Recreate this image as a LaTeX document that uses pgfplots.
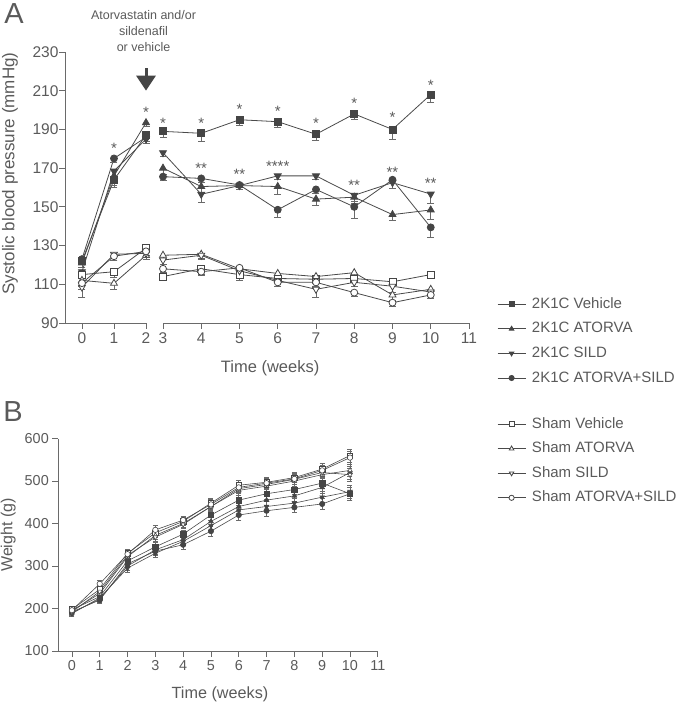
\documentclass[border=0pt]{standalone}
\usepackage{fontspec}
\setmainfont{Liberation Sans}
\usepackage{pgfplots}
\pgfplotsset{compat=1.18}
\usetikzlibrary{arrows.meta}

\definecolor{lc}{HTML}{4A4A4A}
\definecolor{mc}{HTML}{454545}
\definecolor{ac}{HTML}{6A6A6A}
\definecolor{tc}{HTML}{5A5A5A}

\tikzset{astx/.style={font=\fontsize{15}{15}\selectfont, text=tc, yshift=-3.2pt, inner sep=0pt}}

\pgfplotsset{
  common/.style={
    scale only axis, clip=false,
    axis line style={ac, line width=0.8pt},
    tick style={ac, line width=0.8pt},
    major tick length=6pt, tick align=outside,
    /pgf/number format/assume math mode=true,
    ticklabel style={text=tc},
    label style={text=tc},
  },
  ser/.style={color=lc, line width=0.8pt, mark size=3.5pt,
    error bars/y dir=minus, error bars/y explicit,
    error bars/error bar style={color=ac, line width=0.7pt, solid},
    error bars/error mark options={rotate=90, mark size=3.5pt, color=ac, line width=0.7pt}},
  kV/.style={ser, mark=square*, mark options={fill=mc, draw=mc, solid}},
  kA/.style={ser, mark=triangle*, mark options={fill=mc, draw=mc, solid}, mark size=4pt},
  kS/.style={ser, mark=triangle*, mark options={fill=mc, draw=mc, solid, rotate=180}, mark size=4pt},
  kAS/.style={ser, mark=*, mark options={fill=mc, draw=mc, solid}},
  sV/.style={ser, mark=square*, mark options={fill=white, draw=mc, solid}},
  sA/.style={ser, mark=triangle*, mark options={fill=white, draw=mc, solid}, mark size=4pt},
  sS/.style={ser, mark=triangle*, mark options={fill=white, draw=mc, solid, rotate=180}, mark size=4pt},
  sAS/.style={ser, mark=*, mark options={fill=white, draw=mc, solid}},
  small/.style={line width=0.6pt, mark size=2.7pt, error bars/y dir=both,
    error bars/error mark options={rotate=90, mark size=2.5pt, color=ac, line width=0.6pt}},
}

% Panel A, weeks 0-2
\pgfplotstableread{
x y e
0 122 3
1 164 4
2 187 3
}\AkVa
\pgfplotstableread{
x y e
0 121 2
1 166 5
2 193.5 2
}\AkAa
\pgfplotstableread{
x y e
0 116.5 2
1 168.5 5
2 185 2
}\AkSa
\pgfplotstableread{
x y e
0 123 2
1 175 2
2 186 2
}\AkASa
\pgfplotstableread{
x y e
0 115 4
1 116.5 3
2 128.6 2
}\AsVa
\pgfplotstableread{
x y e
0 112 3
1 110.5 3
2 125 2
}\AsAa
\pgfplotstableread{
x y e
0 108.5 5
1 125.5 3
2 126 2
}\AsSa
\pgfplotstableread{
x y e
0 110.6 3
1 124.5 2
2 127 2
}\AsASa

% Panel A, weeks 3-10
\pgfplotstableread{
x y e
3 189 3
4 188 4
5 195 3
6 194 3
7 187.5 3
8 198 3
9 190 5
10 208 4
}\AkVb
\pgfplotstableread{
x y e
3 170 3
4 160.5 3
5 161 2
6 160.5 4
7 154 3
8 155 3
9 146 3
10 148.4 5
}\AkAb
\pgfplotstableread{
x y e
3 178 2
4 156.5 4
5 161 2
6 166 2
7 166 2
8 156 3
9 162.5 3
10 156.6 5
}\AkSb
\pgfplotstableread{
x y e
3 165.6 2
4 164.7 2
5 161.3 2
6 148.5 4
7 159 2
8 150 6
9 164 2
10 139.4 5
}\AkASb
\pgfplotstableread{
x y e
3 114 2
4 118 3
5 115 3
6 113 2
7 112.6 2
8 113 2
9 111.3 2
10 115 2
}\AsVb
\pgfplotstableread{
x y e
3 125 2
4 125.5 2
5 118 2
6 115.6 2
7 114 2
8 116 2
9 104.5 3
10 107.4 3
}\AsAb
\pgfplotstableread{
x y e
3 122.5 2
4 125 2
5 117 2
6 112 3
7 107.4 4
8 111 2
9 109 3
10 106 2
}\AsSb
\pgfplotstableread{
x y e
3 118 2
4 116.5 2
5 118.5 2
6 111 2
7 111 2
8 105.7 2
9 100.5 2
10 104.5 2
}\AsASb

% Panel B
\pgfplotstableread{
x sV sA sS sAS kV kA kS kAS e
0 198 195 192 196 197 190 188 192 6
1 245 235 240 258 228 222 225 220 8
2 330 322 325 328 312 300 295 305 9
3 378 372 368 385 345 338 330 335 10
4 405 400 398 408 375 362 358 350 10
5 448 440 440 445 420 405 395 382 12
6 490 478 482 485 455 440 432 420 12
7 497 488 492 495 470 455 440 430 12
8 508 500 504 505 480 465 448 438 12
9 528 515 520 525 495 485 462 446 13
10 560 525 515 555 470 520 475 470 15
}\Bdata

\begin{document}
\begin{tikzpicture}
\useasboundingbox (0pt,0pt) rectangle (681pt,702pt);

\node[font=\fontsize{29}{29}\selectfont, text=tc] at (14pt,688.5pt) {A};
\node[font=\fontsize{29}{29}\selectfont, text=tc] at (13pt,290pt) {B};

% ---------- Panel A left segment ----------
\begin{axis}[common,
  at={(65pt,379pt)}, anchor=south west, width=81pt, height=271pt,
  xmin=-0.53, xmax=2, ymin=90, ymax=230,
  xtick={0,1,2}, ytick={90,110,...,230},
  axis x line*=bottom, axis y line*=left,
  ticklabel style={font=\fontsize{15.5}{15.5}\selectfont},
  yticklabel style={xshift=3pt},
  ylabel={Systolic blood pressure (mmHg)},
  ylabel style={font=\fontsize{17}{17}\selectfont, at={(axis description cs:-0.679,0.5517)}, anchor=center},
]
\addplot[kV] table[x=x,y=y,y error=e] {\AkVa};
\addplot[kA] table[x=x,y=y,y error=e] {\AkAa};
\addplot[kS] table[x=x,y=y,y error=e] {\AkSa};
\addplot[kAS] table[x=x,y=y,y error=e] {\AkASa};
\addplot[sV] table[x=x,y=y,y error=e] {\AsVa};
\addplot[sA] table[x=x,y=y,y error=e] {\AsAa};
\addplot[sS] table[x=x,y=y,y error=e] {\AsSa};
\addplot[sAS] table[x=x,y=y,y error=e] {\AsASa};
\node[astx] at (axis cs:1,182) {*};
\node[astx] at (axis cs:2,200.5) {*};
\node[align=center, font=\fontsize{12.5}{15.7}\selectfont, text=tc, xshift=-2.5pt] at (axis cs:2,240.8) {Atorvastatin and/or\\sildenafil\\or vehicle};
\draw[mc, line width=3pt, -{Triangle[width=19pt,length=15pt]}] (axis cs:2,221.7) -- (axis cs:2,210);
\end{axis}

% ---------- Panel A right segment ----------
\begin{axis}[common,
  at={(163pt,379pt)}, anchor=south west, width=306pt, height=271pt,
  xmin=3, xmax=11, ymin=90, ymax=230,
  xtick={3,...,11},
  axis x line*=bottom, axis y line=none,
  ticklabel style={font=\fontsize{15.5}{15.5}\selectfont},
  xlabel={Time (weeks)},
  xlabel style={font=\fontsize{16.5}{16.5}\selectfont, at={(axis description cs:0.35,-0.166)}, anchor=center},
  legend style={at={(axis description cs:1.0915,0.0996)}, anchor=north west,
    draw=none, fill=none, inner sep=0pt, row sep=8.6pt, column sep=5pt,
    font=\fontsize{15}{15}\selectfont, text=tc,
    nodes={inner sep=1pt, text height=11pt, text depth=3pt}},
  legend cell align=left,
  legend image code/.code={\draw[mark repeat=2, mark phase=2, mark size=2.6pt, line width=0.8pt] plot coordinates {(0pt,0pt) (14pt,0pt) (28pt,0pt)};},
]
\addplot[kV] table[x=x,y=y,y error=e] {\AkVb};
\addlegendentry{2K1C Vehicle}
\addplot[kA] table[x=x,y=y,y error=e] {\AkAb};
\addlegendentry{2K1C ATORVA}
\addplot[kS] table[x=x,y=y,y error=e] {\AkSb};
\addlegendentry{2K1C SILD}
\addplot[kAS] table[x=x,y=y,y error=e] {\AkASb};
\addlegendentry{2K1C ATORVA+SILD}
\addlegendimage{empty legend}
\addlegendentry[text height=7.8pt]{}
\addplot[sV] table[x=x,y=y,y error=e] {\AsVb};
\addlegendentry{Sham Vehicle}
\addplot[sA] table[x=x,y=y,y error=e] {\AsAb};
\addlegendentry{Sham ATORVA}
\addplot[sS] table[x=x,y=y,y error=e] {\AsSb};
\addlegendentry{Sham SILD}
\addplot[sAS] table[x=x,y=y,y error=e] {\AsASb};
\addlegendentry{Sham ATORVA+SILD}
\node[astx] at (axis cs:3,195) {*};
\node[astx] at (axis cs:4,195) {*};
\node[astx] at (axis cs:5,202) {*};
\node[astx] at (axis cs:6,201) {*};
\node[astx] at (axis cs:7,195) {*};
\node[astx] at (axis cs:8,205) {*};
\node[astx] at (axis cs:9,198) {*};
\node[astx] at (axis cs:10,214.6) {*};
\node[astx] at (axis cs:4,171.5) {**};
\node[astx] at (axis cs:5,168.5) {**};
\node[astx] at (axis cs:6,172.5) {****};
\node[astx] at (axis cs:8,163) {**};
\node[astx] at (axis cs:9,169.4) {**};
\node[astx] at (axis cs:10,164) {**};
\end{axis}

% ---------- Panel B ----------
\begin{axis}[common,
  at={(58.3pt,51pt)}, anchor=south west, width=319.5pt, height=212.5pt,
  xmin=-0.49, xmax=11, ymin=100, ymax=600,
  xtick={0,...,11}, ytick={100,200,...,600},
  axis x line*=bottom, axis y line*=left,
  ticklabel style={font=\fontsize{14.4}{14.4}\selectfont},
  xlabel={Time (weeks)},
  xlabel style={font=\fontsize{16.2}{16.2}\selectfont, at={(axis description cs:0.506,-0.205)}, anchor=center},
  ylabel={Weight (g)},
  ylabel style={font=\fontsize{16}{16}\selectfont, at={(axis description cs:-0.157,0.546)}, anchor=center},
]
\addplot[kV, small] table[x=x,y=kV,y error=e] {\Bdata};
\addplot[kA, small] table[x=x,y=kA,y error=e] {\Bdata};
\addplot[kS, small] table[x=x,y=kS,y error=e] {\Bdata};
\addplot[kAS, small] table[x=x,y=kAS,y error=e] {\Bdata};
\addplot[sV, small] table[x=x,y=sV,y error=e] {\Bdata};
\addplot[sA, small] table[x=x,y=sA,y error=e] {\Bdata};
\addplot[sS, small] table[x=x,y=sS,y error=e] {\Bdata};
\addplot[sAS, small] table[x=x,y=sAS,y error=e] {\Bdata};
\end{axis}
\end{tikzpicture}
\end{document}
